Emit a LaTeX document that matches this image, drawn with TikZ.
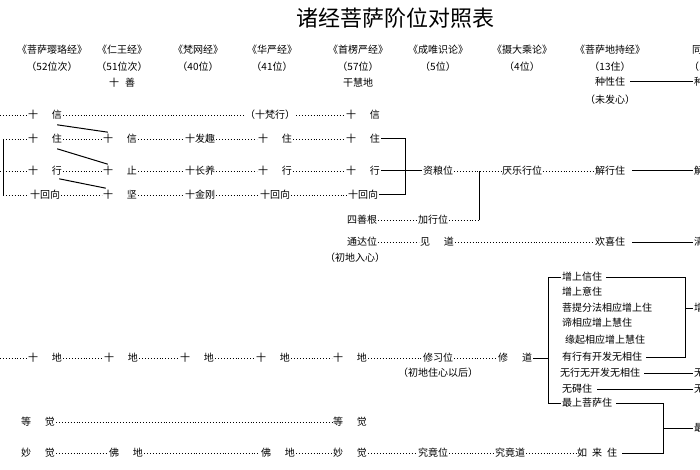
\documentclass[tikz,border=0pt]{standalone}
\usepackage{fontspec}
\usetikzlibrary{calc}
\newfontfamily\cn{Noto Sans CJK SC}
\begin{document}
\begin{tikzpicture}[x=1pt,y=-1pt,
  lbl/.style={font=\cn\fontsize{10}{12}\selectfont, inner sep=1pt},
  lleft/.style={lbl, anchor=west},
  dotline/.style={dotted, line width=0.9pt},
  solidline/.style={line width=1pt}]
\useasboundingbox (0,0) rectangle (700,470);
\clip (0,0) rectangle (700,470);
\newcommand{\gap}{\hspace{1.4em}}

% title and headers
\node[lbl, font=\cn\fontsize{22}{24}\selectfont] (title) at (395,18) {诸经菩萨阶位对照表};
\foreach \x/\h/\n [count=\i] in {52/菩萨璎珞经/52位次, 122/仁王经/51位次, 198/梵网经/40位,
    272/华严经/41位, 358/首楞严经/57位, 438/成唯识论/5位, 522/摄大乘论/4位, 610/菩萨地持经/13住}{
  \node[lbl] (h\i) at (\x,50) {《\h》};
  \node[lbl] (n\i) at (\x,67) {（\n）};
}
\node[lbl] (shan) at (122,83) {十\hspace{0.6em}善};
\node[lbl] (ganhui) at (358,83) {干慧地};
\node[lbl] (zhongxing) at (610,82) {种性住};
\node[lbl] (weifaxin) at (610,100) {（未发心）};
% cut off at the right edge
\node[lbl] (hr) at (697,50) {同};
\node[lbl] (nr) at (697,67) {（1};
\node[lbl] (zr) at (699,82) {种};

% ten faiths
\coordinate (a0) at (0,115);
\node[lbl] (a1) at (45,115) {十\gap 信};
\node[lbl] (a2) at (270,115) {（十梵行）};
\node[lbl] (a3) at (363,115) {十\gap 信};
\draw[dotline] (a0) -- (a1) (a1) -- (a2) (a2) -- (a3);

% ten abodes, practices, dedications
\foreach \r/\y/\sx/\ta/\tb/\tc/\td/\te in {
    b/139/3/十\gap 住/十\gap 信/十发趣/十\gap 住/十\gap 住,
    c/171/0/十\gap 行/十\gap 止/十长养/十\gap 行/十\gap 行,
    d/195/3/十回向/十\gap 坚/十金刚/十回向/十回向}{
  \coordinate (\r0) at (\sx,\y);
  \node[lbl] (\r1) at (45,\y) {\ta};
  \node[lbl] (\r2) at (120,\y) {\tb};
  \node[lbl] (\r3) at (200,\y) {\tc};
  \node[lbl] (\r4) at (275,\y) {\td};
  \node[lbl] (\r5) at (363,\y) {\te};
  \draw[dotline] (\r0) -- (\r1) (\r1) -- (\r2) (\r2) -- (\r3) (\r3) -- (\r4) (\r4) -- (\r5);
}
\draw[solidline] (b0) -- (d0);
\draw[solidline] ($(a1.south east)+(-6,4)$) -- ($(b2.north west)+(6,-1)$);
\draw[solidline] ($(b1.south east)+(-6,4)$) -- ($(c2.north west)+(6,-1)$);
\draw[solidline] ($(c1.south east)+(-4,2)$) -- ($(d2.north west)+(4,-1)$);

% five stages
\node[lbl] (ziliang) at (438,171) {资粮位};
\node[lbl] (yanle) at (522,171) {厌乐行位};
\node[lbl] (jiexing) at (610,171) {解行住};
\node[lbl] (jr) at (699,171) {解};
\coordinate (br1) at (405,139);
\draw[solidline] (b5.east) -- (br1) |- (d5.east);
\draw[solidline] (c5.east) -- (ziliang.west);
\draw[dotline] (ziliang) -- (yanle) (yanle) -- (jiexing);
\draw[solidline] ($(jiexing.east)+(6,0)$) -- (jr.west);
\draw[solidline] ($(zhongxing.east)+(4,0)$) -- (zr.west);

\node[lbl] (sishan) at (362,220) {四善根};
\node[lbl] (jiaxing) at (433,220) {加行位};
\coordinate (jx) at (479,220);
\draw[dotline] (sishan) -- (jiaxing) (jiaxing) -- (jx);
\draw[solidline] (jx) -- (479,171);

\node[lbl] (tongda) at (362,242) {通达位};
\node[lbl] (chudi) at (355,258) {（初地入心）};
\node[lbl] (jiandao) at (437,242) {见\gap 道};
\node[lbl] (huanxi) at (610,242) {欢喜住};
\node[lbl] (qr) at (699,242) {清};
\draw[dotline] (tongda) -- (jiandao) (jiandao) -- (huanxi);
\draw[solidline] ($(huanxi.east)+(6,0)$) -- (qr.west);

% ten grounds
\coordinate (e0) at (0,358);
\foreach \x [count=\i] in {45,121,197,273,350}{
  \node[lbl] (e\i) at (\x,358) {十\gap 地};
}
\node[lbl] (xiuxi) at (438,358) {修习位};
\node[lbl] (chuzhu) at (438,373) {（初地住心以后）};
\node[lbl] (xiudao) at (515,358) {修\gap 道};
\draw[dotline] (e0) -- (e1) (e1) -- (e2) (e2) -- (e3) (e3) -- (e4) (e4) -- (e5) (e5) -- (xiuxi) (xiuxi) -- (xiudao);

% thirteen abodes
\node[lleft] (z1) at (561,277) {增上信住};
\node[lleft] (z2) at (561,292) {增上意住};
\node[lleft] (z3) at (561,308) {菩提分法相应增上住};
\node[lleft] (z4) at (561,323) {谛相应增上慧住};
\node[lleft] (z5) at (564,340) {缘起相应增上慧住};
\node[lleft] (z6) at (561,357) {有行有开发无相住};
\node[lleft] (z7) at (559,373) {无行无开发无相住};
\node[lleft] (z8) at (561,389) {无碍住};
\node[lleft] (z9) at (561,403) {最上菩萨住};
\coordinate (xb) at (548,358);
\draw[solidline] (xiudao.east) -- (xb);
\draw[solidline] (z1.west) -| (xb) |- (z9.west);
\coordinate (rb) at (685,308);
\draw[solidline] ($(z1.east)+(3,0)$) -| (rb) |- ($(z6.east)+(3,0)$);
\node[lbl] (zr3) at (699,308) {增};
\draw[solidline] (rb) -- (zr3.west);
\node[lbl] (zr7) at (699,373) {无};
\node[lbl] (zr8) at (699,389) {无};
\draw[solidline] ($(z7.east)+(3,0)$) -- (zr7.west);
\draw[solidline] ($(z8.east)+(4,0)$) -- (zr8.west);

% equal and wondrous enlightenment
\node[lbl] (deng1) at (38,422) {等\gap 觉};
\node[lbl] (deng2) at (350,422) {等\gap 觉};
\draw[dotline] (deng1) -- (deng2);
\node[lbl] (miao1) at (38,453) {妙\gap 觉};
\node[lbl] (fo1) at (126,453) {佛\gap 地};
\node[lbl] (fo2) at (278,453) {佛\gap 地};
\node[lbl] (miao2) at (350,453) {妙\gap 觉};
\node[lbl] (jiujing) at (433,453) {究竟位};
\node[lbl] (jjdao) at (510,453) {究竟道};
\node[lbl] (rulai) at (597,453) {如\hspace{0.5em}来\hspace{0.5em}住};
\draw[dotline] (miao1) -- (fo1) (fo1) -- (fo2) (fo2) -- (miao2) (miao2) -- (jiujing) (jiujing) -- (jjdao) (jjdao) -- (rulai);
\coordinate (fb) at (663,428);
\draw[solidline] ($(z9.east)+(3,0)$) -| (fb) |- ($(rulai.east)+(4,0)$);
\node[lbl] (zr9) at (699,428) {最};
\draw[solidline] (fb) -- (zr9.west);
\end{tikzpicture}
\end{document}
